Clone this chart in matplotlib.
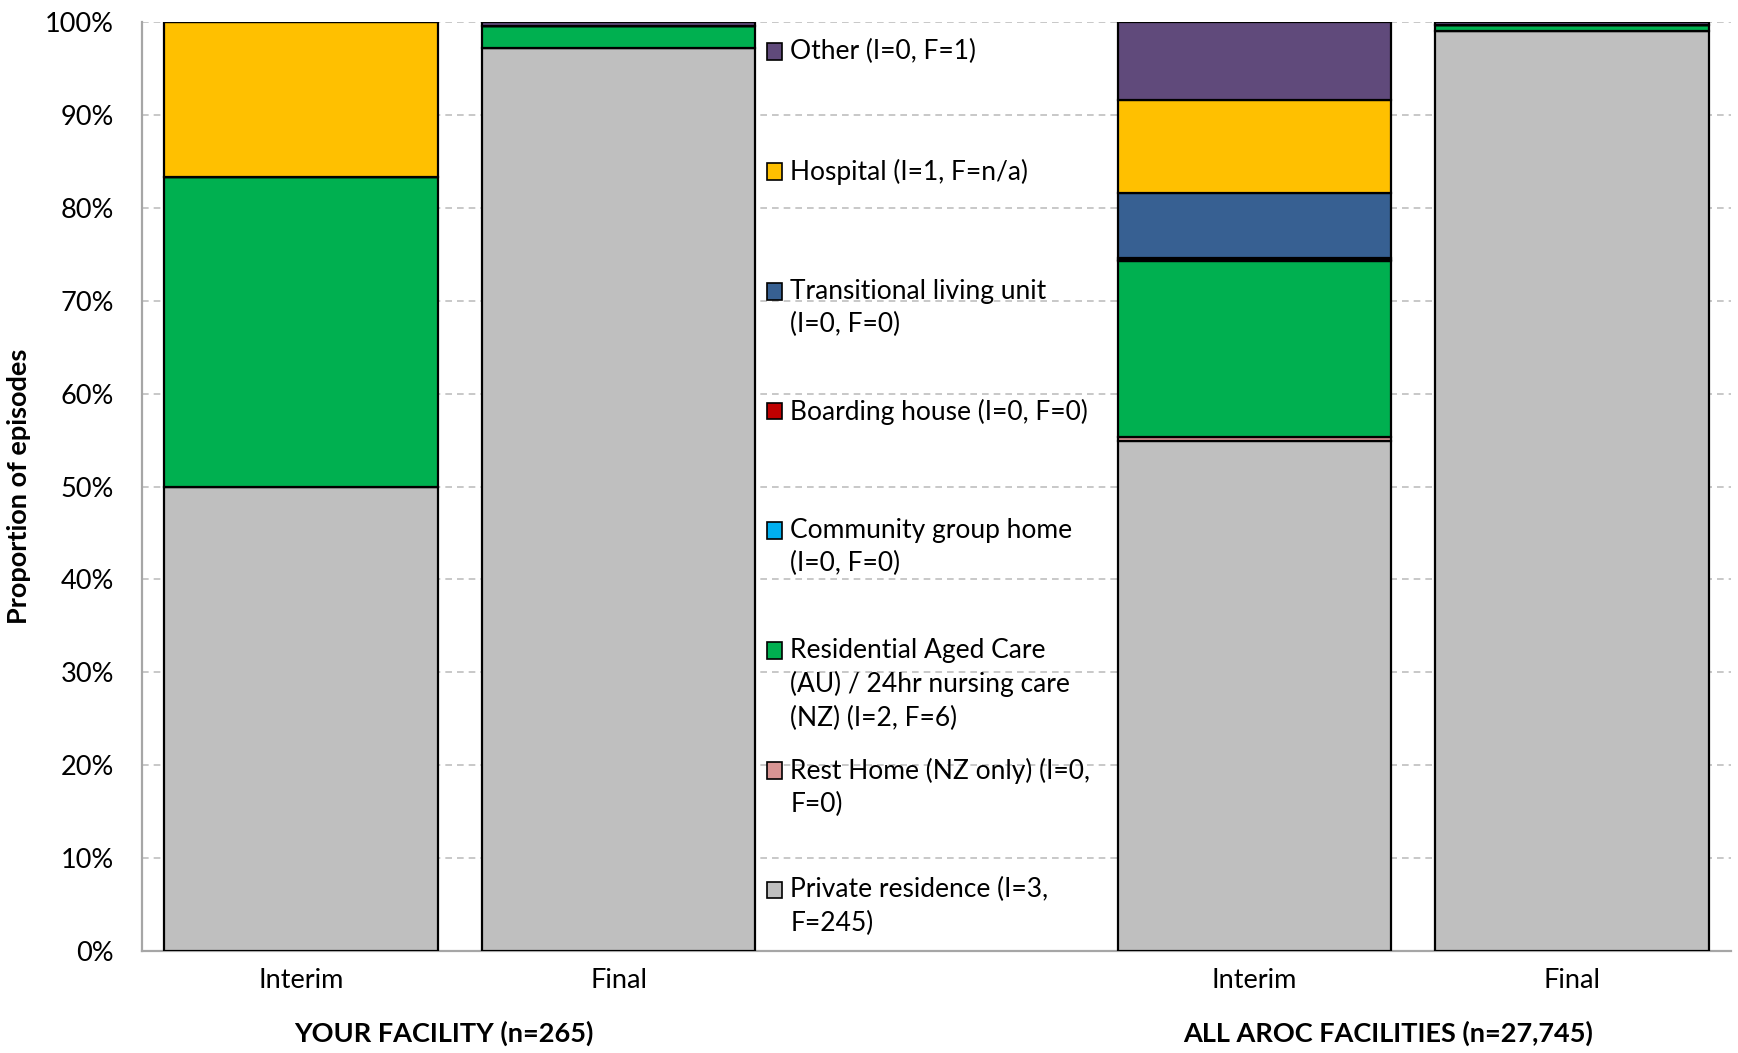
import numpy as np
import matplotlib
matplotlib.use("Agg")
import matplotlib.pyplot as plt
from matplotlib.patches import Rectangle

plt.rcParams["font.family"] = ["Lato", "DejaVu Sans"]

# stacking order, bottom to top
categories = [
    "Private residence (I=3,\nF=245)",
    "Rest Home (NZ only) (I=0,\nF=0)",
    "Residential Aged Care\n(AU) / 24hr nursing care\n(NZ) (I=2, F=6)",
    "Community group home\n(I=0, F=0)",
    "Boarding house (I=0, F=0)",
    "Transitional living unit\n(I=0, F=0)",
    "Hospital (I=1, F=n/a)",
    "Other (I=0, F=1)",
]
colors = ["#BFBFBF", "#D99594", "#00B050", "#00B0F0",
          "#C00000", "#376092", "#FFC000", "#604A7B"]

bar_labels = ["Interim", "Final", "Interim", "Final"]
group_labels = ["YOUR FACILITY (n=265)", "ALL AROC FACILITIES (n=27,745)"]

your_interim = [50.0, 0.0, 33.3, 0.0, 0.0, 0.0, 16.7, 0.0]
your_final = [97.2, 0.0, 2.4, 0.0, 0.0, 0.0, 0.0, 0.4]
aroc_interim = [54.9, 0.4, 19.0, 0.1, 0.2, 7.0, 10.0, 8.4]
aroc_final = [99.0, 0.0, 0.7, 0.0, 0.0, 0.0, 0.0, 0.3]

series = np.array([your_interim, your_final, aroc_interim, aroc_final]) / 100.0
positions = [0, 1, 3, 4]

fig = plt.figure(figsize=(17.38, 10.53), dpi=100)
ax = fig.add_axes([0.0817, 0.0969, 0.9143, 0.8821])

bottom = np.zeros(len(positions))
for k, (cat, col) in enumerate(zip(categories, colors)):
    vals = series[:, k]
    ax.bar(positions, vals, width=0.86, bottom=bottom, color=col,
           edgecolor="black", linewidth=1.6, zorder=3)
    bottom += vals

ax.set_xlim(-0.5, 4.5)
ax.set_ylim(0, 1.0)
ax.set_yticks(np.arange(0, 1.01, 0.1))
ax.set_yticklabels([f"{int(round(v * 100))}%" for v in np.arange(0, 1.01, 0.1)])
ax.set_xticks(positions)
ax.set_xticklabels(bar_labels)
ax.tick_params(axis="both", length=0, labelsize=19.5, colors="black")
ax.tick_params(axis="y", pad=20)
ax.tick_params(axis="x", pad=12)

ax.yaxis.grid(True, linestyle=(0, (4, 3)), color="#BFBFBF", linewidth=1.2, zorder=0)
for s in ["top", "right"]:
    ax.spines[s].set_visible(False)
for s in ["left", "bottom"]:
    ax.spines[s].set_color("#A6A6A6")
    ax.spines[s].set_linewidth(1.6)

ax.set_ylabel("Proportion of episodes", fontsize=19.5, fontweight="bold", labelpad=10)

# group labels under the tick labels
ax.text(0.449, -0.089, group_labels[0], transform=ax.get_xaxis_transform(),
        ha="center", va="center", fontsize=19.5, fontweight="bold")
ax.text(3.42, -0.089, group_labels[1], transform=ax.get_xaxis_transform(),
        ha="center", va="center", fontsize=19.5, fontweight="bold")

# legend drawn in the gap between the two groups, top to bottom
y0 = 0.968
step = 0.1289
for i, k in enumerate(range(len(categories) - 1, -1, -1)):
    y = y0 - i * step
    ax.add_patch(Rectangle((0.3935, y - 0.009), 0.0095, 0.018,
                           transform=ax.transAxes, facecolor=colors[k],
                           edgecolor="black", linewidth=1.2, zorder=4,
                           clip_on=False))
    ax.text(0.408, y + 0.0135, categories[k], transform=ax.transAxes,
            ha="left", va="top", fontsize=19, linespacing=1.4, zorder=4)

fig.savefig("out.png", dpi=100, facecolor="white")
